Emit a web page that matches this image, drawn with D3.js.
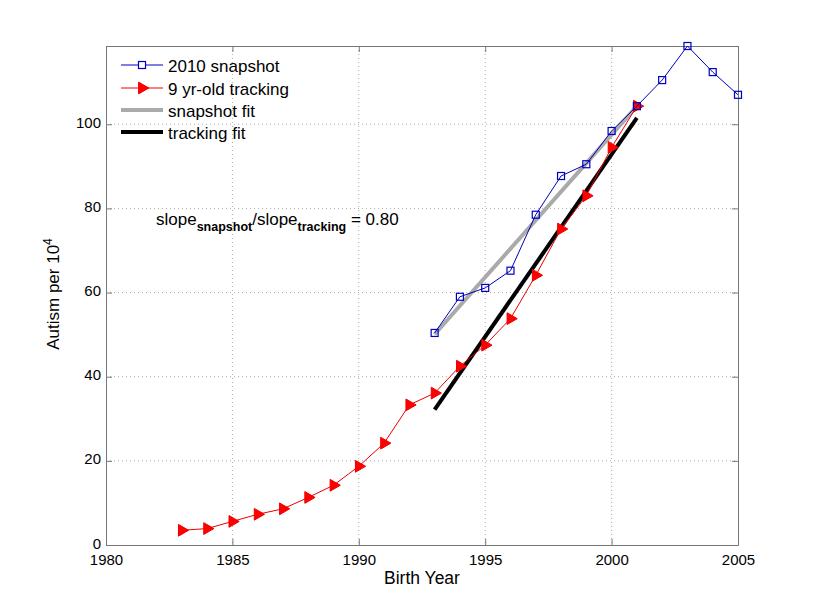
<!DOCTYPE html>
<html><head><meta charset="utf-8">
<script src="https://cdn.jsdelivr.net/npm/d3@7"></script>
<style>body{margin:0;background:#fff}svg{font-family:"Liberation Sans",Arial,sans-serif}</style>
</head><body><svg id="c" width="816" height="612"></svg>
<script>
const snapYears = [1993,1994,1995,1996,1997,1998,1999,2000,2001,2002,2003,2004,2005];
const snapValues = [50.4,59.0,61.1,65.2,78.5,87.7,90.5,98.4,104.3,110.5,118.6,112.4,107.0];
const trackYears = [1983,1984,1985,1986,1987,1988,1989,1990,1991,1992,1993,1994,1995,1996,1997,1998,1999,2000,2001];
const trackValues = [3.5,3.9,5.6,7.3,8.6,11.3,14.2,18.7,24.2,33.3,36.1,42.5,47.5,53.8,64.1,75.1,83.0,94.5,104.3];
const fitYears = [1993,2001];
const snapFit = [50.1,104.3];
const trackFit = [32.2,101.5];
const xTicks = [1980,1985,1990,1995,2000,2005];
const yTicks = [0,20,40,60,80,100];
const legendLabels = ["2010 snapshot","9 yr-old tracking","snapshot fit","tracking fit"];

const svg = d3.select("#c");
const L=106,R=738,T=46,B=545;
const x = d3.scaleLinear().domain([1980,2005]).range([L,R]);
const y = d3.scaleLinear().domain([0,118.6]).range([B,T]);

// grid
const g = svg.append("g");
g.selectAll(".gx").data(xTicks.slice(1,-1)).join("line")
 .attr("x1",d=>x(d)).attr("x2",d=>x(d)).attr("y1",T).attr("y2",B)
 .attr("stroke","#aaa").attr("stroke-dasharray","1,3").attr("stroke-width",1);
g.selectAll(".gy").data(yTicks.slice(1)).join("line")
 .attr("x1",L).attr("x2",R).attr("y1",d=>y(d)).attr("y2",d=>y(d))
 .attr("stroke","#aaa").attr("stroke-dasharray","1,3").attr("stroke-width",1);

// axes
const ax = d3.axisBottom(x).tickValues(xTicks).tickFormat(d3.format("d")).tickSizeInner(-6).tickSizeOuter(0).tickPadding(9);
const ay = d3.axisLeft(y).tickValues(yTicks).tickSizeInner(-6).tickSizeOuter(0).tickPadding(5);
const axB = svg.append("g").attr("transform",`translate(0,${B})`).call(ax);
const axL = svg.append("g").attr("transform",`translate(${L},0)`).call(ay);
const axT = svg.append("g").attr("transform",`translate(0,${T})`).call(d3.axisTop(x).tickValues(xTicks).tickSizeInner(-6).tickSizeOuter(0).tickFormat(""));
const axR = svg.append("g").attr("transform",`translate(${R},0)`).call(d3.axisRight(y).tickValues(yTicks).tickSizeInner(-6).tickSizeOuter(0).tickFormat(""));
[axB,axL,axT,axR].forEach(a=>{a.select(".domain").attr("stroke","#777");a.selectAll(".tick line").attr("stroke","#777");
 a.selectAll("text").attr("font-size",15).attr("fill","#000").attr("font-family","Liberation Sans, Arial, sans-serif");});
axL.selectAll("text").attr("dy","0.2em");

// fit lines
const line = d3.line().x(d=>x(d[0])).y(d=>y(d[1]));
svg.append("path").attr("d",line(fitYears.map((d,i)=>[d,snapFit[i]]))).attr("stroke","#aaaaaa").attr("stroke-width",4).attr("fill","none");
svg.append("path").attr("d",line(fitYears.map((d,i)=>[d,trackFit[i]]))).attr("stroke","#000").attr("stroke-width",4).attr("fill","none");

// tracking
const tri = d3.symbol().type(d3.symbolTriangle).size(60);
const trackPts = trackYears.map((d,i)=>[d,trackValues[i]]);
svg.append("path").attr("d",line(trackPts)).attr("stroke","#e00").attr("stroke-width",1).attr("fill","none");
svg.selectAll(".tr").data(trackPts).join("path").attr("d",tri)
 .attr("transform",d=>`translate(${x(d[0])},${y(d[1])}) rotate(90)`).attr("fill","#f00").attr("stroke","#e00");

// snapshot
const snapPts = snapYears.map((d,i)=>[d,snapValues[i]]);
svg.append("path").attr("d",line(snapPts)).attr("stroke","#0000c0").attr("stroke-width",1).attr("fill","none");
svg.selectAll(".sq").data(snapPts).join("rect")
 .attr("x",d=>x(d[0])-3.5).attr("y",d=>y(d[1])-3.5).attr("width",7).attr("height",7)
 .attr("fill","none").attr("stroke","#0000c0").attr("stroke-width",1.2);

// legend
const lg = svg.append("g");
const rowsY=[65,88,110,132];
legendLabels.forEach((t,i)=>{
  const yy=rowsY[i];
  const st = [["#0000c0",1],["#e00",1],["#aaaaaa",4],["#000",4]][i];
  lg.append("line").attr("x1",121).attr("x2",163).attr("y1",yy).attr("y2",yy).attr("stroke",st[0]).attr("stroke-width",st[1]);
  if(i===0) lg.append("rect").attr("x",138.5).attr("y",yy-3.5).attr("width",7).attr("height",7).attr("fill","#fff").attr("stroke","#0000c0").attr("stroke-width",1.2);
  if(i===1) lg.append("path").attr("d",tri).attr("transform",`translate(142,${yy}) rotate(90)`).attr("fill","#f00").attr("stroke","#e00");
  lg.append("text").attr("x",168).attr("y",yy+7).attr("font-size",17).text(t);
});

// annotation
const an = svg.append("text").attr("x",156).attr("y",225).attr("font-size",17);
an.append("tspan").text("slope");
an.append("tspan").attr("dy",6).attr("font-size",12.5).attr("font-weight","bold").text("snapshot");
an.append("tspan").attr("dy",-6).text("/slope");
an.append("tspan").attr("dy",6).attr("font-size",12.5).attr("font-weight","bold").text("tracking");
an.append("tspan").attr("dy",-6).text(" = 0.80");

// labels
svg.append("text").attr("x",(L+R)/2).attr("y",584).attr("text-anchor","middle").attr("font-size",17.5).text("Birth Year");
const yl = svg.append("text").attr("transform","translate(59,294) rotate(-90)").attr("text-anchor","middle").attr("font-size",17);
yl.append("tspan").text("Autism per 10");
yl.append("tspan").attr("dy",-7).attr("font-size",12).text("4");
</script></body></html>
